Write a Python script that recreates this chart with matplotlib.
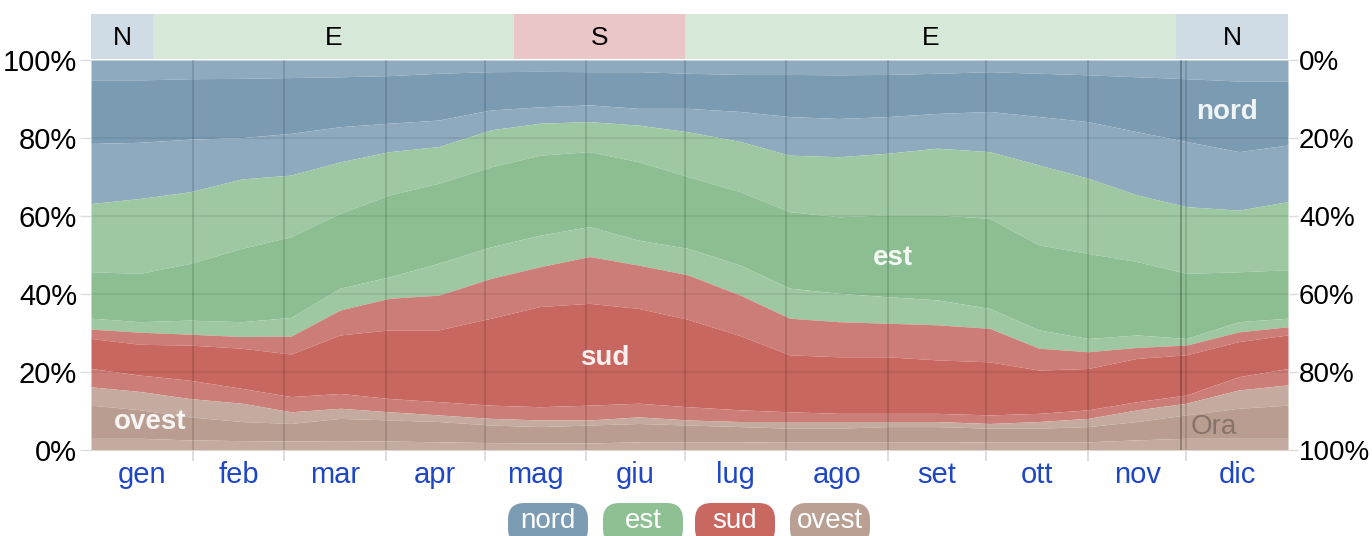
import matplotlib
matplotlib.use("Agg")
import matplotlib.pyplot as plt
from matplotlib.patches import FancyBboxPatch
import numpy as np

plt.rcParams["font.family"] = ["Liberation Sans", "DejaVu Sans"]

W, H = 1372, 536

# sample days (day of year) and stacked boundaries in % (from the bottom)
days = [0, 15, 30, 46, 61, 76, 91, 106, 122, 137, 152, 167, 182,
        198, 213, 228, 243, 258, 274, 289, 304, 319, 334, 350, 365]

nord_hi = [94.9, 94.9, 95.2, 95.3, 95.5, 95.7, 96.0, 96.6, 97.0, 97.1, 97.0, 97.0, 96.6,
           96.3, 96.3, 96.2, 96.3, 96.6, 97.0, 96.6, 96.2, 95.7, 95.2, 94.6, 94.6]
nord_lo = [78.6, 78.9, 79.7, 80.1, 81.2, 82.9, 83.8, 84.6, 87.2, 88.0, 88.5, 87.6, 87.6,
           86.8, 85.5, 85.0, 85.5, 86.3, 86.8, 85.5, 84.2, 81.6, 79.1, 76.5, 78.2]
est_top = [63.2, 64.5, 66.2, 69.5, 70.5, 73.9, 76.5, 77.8, 82.1, 83.8, 84.2, 83.3, 81.6,
           79.1, 75.6, 75.2, 76.1, 77.4, 76.5, 73.1, 69.7, 65.4, 62.4, 61.5, 63.7]
est_hi = [45.7, 45.3, 47.8, 51.7, 54.7, 60.7, 65.4, 68.4, 72.6, 75.6, 76.5, 73.9, 70.1,
          66.2, 61.1, 59.8, 60.3, 60.3, 59.4, 52.6, 50.4, 48.3, 45.3, 45.7, 46.2]
est_lo = [33.8, 32.9, 33.3, 32.9, 34.0, 41.5, 44.4, 47.9, 52.1, 55.1, 57.3, 53.8, 51.7,
          47.4, 41.5, 40.2, 39.3, 38.5, 36.3, 30.8, 28.6, 29.5, 28.6, 32.9, 33.8]
sud_top = [31.0, 30.2, 29.7, 29.1, 29.2, 35.9, 38.9, 39.7, 44.0, 47.0, 49.6, 47.4, 44.9,
           39.7, 33.8, 32.9, 32.5, 32.1, 31.2, 26.1, 25.2, 26.3, 26.9, 30.3, 31.6]
sud_hi = [28.6, 27.1, 26.9, 26.1, 24.6, 29.5, 30.8, 30.8, 33.8, 36.8, 37.6, 36.3, 33.5,
          29.3, 24.4, 23.9, 23.9, 23.1, 22.6, 20.5, 20.9, 23.5, 24.4, 27.8, 29.5]
sud_lo = [20.9, 19.2, 17.9, 15.8, 13.7, 14.5, 13.2, 12.4, 11.5, 11.1, 11.5, 12.0, 11.1,
          10.3, 9.8, 9.4, 9.4, 9.4, 9.0, 9.4, 10.3, 12.4, 14.1, 18.8, 20.9]
ovest_top = [16.2, 15.0, 13.2, 12.0, 9.8, 10.7, 9.8, 9.0, 8.1, 7.7, 7.7, 8.5, 7.7,
             7.3, 7.3, 7.3, 7.3, 7.3, 6.8, 7.3, 8.1, 10.3, 12.0, 15.4, 16.7]
ovest_hi = [11.5, 10.3, 8.5, 7.3, 6.8, 8.1, 7.7, 7.3, 6.4, 6.0, 6.4, 6.8, 6.4,
            6.0, 5.6, 5.6, 6.0, 6.0, 5.6, 5.6, 6.0, 7.3, 9.0, 10.7, 11.5]
ovest_lo = [3.0, 3.0, 2.6, 2.4, 2.3, 2.4, 2.3, 2.1, 1.9, 1.8, 1.8, 2.1, 2.1,
            2.1, 2.0, 2.0, 2.0, 2.0, 2.1, 2.1, 2.1, 2.6, 3.0, 3.0, 3.0]

months = ["gen", "feb", "mar", "apr", "mag", "giu", "lug", "ago", "set", "ott", "nov", "dic"]
month_starts = [0, 31, 59, 90, 120, 151, 181, 212, 243, 273, 304, 334, 365]

# dominant direction strip on top
dom_labels = ["N", "E", "S", "E", "N"]
dom_edges = [0, 19, 129, 181, 331, 365]
dom_colors = {"N": "#d0dce5", "E": "#d6e8d8", "S": "#ebc6c6"}

NORD_L, NORD_D = "#8eaabe", "#7b9bb2"
EST_L, EST_D = "#9dc8a1", "#8cbe91"
SUD_L, SUD_D = "#cd7d77", "#c8675f"
OV_L, OV_D = "#c5ab9f", "#b99d90"
LEG = {"nord": "#7b9cb3", "est": "#8fc093", "sud": "#c96860", "ovest": "#baa093"}
BLUE_TXT = "#1f46c4"

fig = plt.figure(figsize=(W / 100, H / 100), dpi=100)
ax = fig.add_axes([91 / W, 1 - 450 / H, (1288 - 91) / W, 390 / H])

bounds = [[100] * len(days), nord_hi, nord_lo, est_top, est_hi, est_lo, sud_top,
          sud_hi, sud_lo, ovest_top, ovest_hi, ovest_lo, [0] * len(days)]
cols = [NORD_L, NORD_D, NORD_L, EST_L, EST_D, EST_L, SUD_L, SUD_D, SUD_L,
        OV_L, OV_D, OV_L]
for top, bot, c in zip(bounds[:-1], bounds[1:], cols):
    ax.fill_between(days, bot, top, color=c, lw=0, zorder=1)

ax.set_xlim(0, 365)
ax.set_ylim(0, 100)
for s in ax.spines.values():
    s.set_visible(False)

# grid
for d in month_starts[1:-1]:
    ax.axvline(d, color="black", alpha=0.16, lw=1.1, zorder=3)
ax.axvline(332.5, color="black", alpha=0.3, lw=1.2, zorder=3)
for v in [20, 40, 60, 80]:
    ax.axhline(v, color="black", alpha=0.08, lw=1.2, zorder=3)

ax.set_xticks(month_starts[1:-1])
ax.set_xticklabels([])
ax.tick_params(axis="x", which="major", length=8, width=1.1, color="#d5d5d5")
mids = [(a + b) / 2 for a, b in zip(month_starts[:-1], month_starts[1:])]
ax.set_xticks(mids, minor=True)
ax.set_xticklabels(months, minor=True)
ax.tick_params(axis="x", which="minor", length=0, pad=8, labelsize=21,
               labelcolor=BLUE_TXT)

yt = [0, 20, 40, 60, 80, 100]
ax.set_yticks(yt)
ax.set_yticklabels(["{}%".format(v) for v in yt])
ax.tick_params(axis="y", length=8, width=1, color="#dddddd", labelsize=21, pad=2)
ax2 = ax.twinx()
ax2.set_ylim(0, 100)
ax2.set_yticks(yt)
ax2.set_yticklabels(["{}%".format(100 - v) for v in yt])
ax2.tick_params(axis="y", length=7, width=1, color="#dddddd", labelsize=20, pad=1)
for s in ax2.spines.values():
    s.set_visible(False)

# labels inside the chart
lab = dict(color="white", alpha=0.9, fontsize=20, fontweight="bold",
           ha="center", va="center", zorder=5)
ax.text(346.4, 86.7, "nord", **lab)
ax.text(244.6, 49.2, "est", **lab)
ax.text(156.8, 23.6, "sud", **lab)
ax.text(18.0, 7.2, "ovest", **lab)
ax.text(342.5, 5.9, "Ora", color="#7a6a62", alpha=0.8, fontsize=20,
        ha="center", va="center", zorder=5)

# dominant-direction strip
hx = fig.add_axes([91 / W, 1 - 59 / H, (1288 - 91) / W, 45 / H])
hx.set_xlim(0, 365)
hx.set_ylim(0, 1)
hx.axis("off")
for lbl, a, b in zip(dom_labels, dom_edges[:-1], dom_edges[1:]):
    hx.axvspan(a, b, color=dom_colors[lbl], lw=0)
    hx.text((a + b) / 2, 0.47, lbl, ha="center", va="center", fontsize=19,
            color="black")

# legend chips
chips = [("nord", 508), ("est", 603), ("sud", 695), ("ovest", 790)]
for name, x0 in chips:
    box = FancyBboxPatch((x0 / W, 1 - 545 / H), 80 / W, 42 / H,
                         boxstyle="round,pad=0,rounding_size=0.012",
                         transform=fig.transFigure, facecolor=LEG[name],
                         edgecolor="none", mutation_aspect=W / H)
    fig.patches.append(box)
    fig.text((x0 + 40) / W, 1 - 521 / H, name, ha="center", va="center",
             color="white", fontsize=20)

fig.savefig("out.png", dpi=100, facecolor="white")
